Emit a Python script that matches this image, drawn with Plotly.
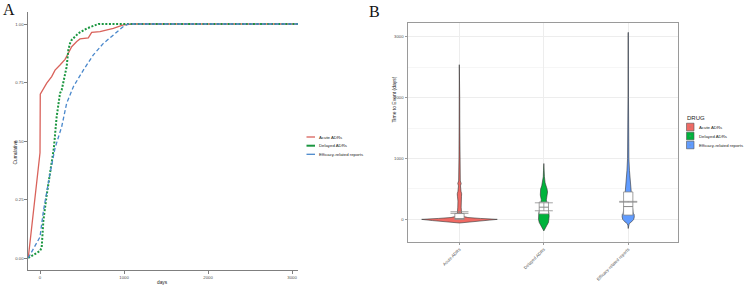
import plotly.graph_objects as go

W, H = 744, 288

# ---------------- Panel A data (cumulative curves) ----------------
acute_days = [-140, 0, 3, 40, 80, 139, 179, 238, 298, 337, 377, 437, 476, 575, 615, 714, 873, 992, 1100, 3071]
acute_cum = [0, 0.45, 0.70, 0.725, 0.747, 0.775, 0.803, 0.825, 0.849, 0.875, 0.903, 0.925, 0.936, 0.941, 0.964, 0.967, 0.981, 0.996, 1.0, 1.0]

delayed_days = [-140, 0, 20, 40, 80, 139, 165, 198, 238, 258, 298, 317, 337, 357, 377, 437, 456, 556, 694, 3071]
delayed_cum = [0, 0.03, 0.045, 0.16, 0.27, 0.40, 0.47, 0.604, 0.704, 0.718, 0.789, 0.817, 0.889, 0.917, 0.932, 0.953, 0.96, 0.981, 1.0, 1.0]

efficacy_days = [-140, 0, 40, 80, 119, 179, 258, 317, 397, 516, 635, 754, 873, 992, 1052, 3071]
efficacy_cum = [0, 0.09, 0.20, 0.29, 0.36, 0.47, 0.561, 0.661, 0.732, 0.803, 0.868, 0.917, 0.953, 0.989, 1.0, 1.0]

series_names = ["Acute ADRs", "Delayed ADRs", "Efficacy-related reports"]
a_ticks_y = [0, 0.25, 0.5, 0.75, 1.0]
a_ticklabels_y = ["0.00", "0.25", "0.50", "0.75", "1.00"]
a_ticks_x = [0, 1000, 2000, 3000]

# ---------------- Panel B data (violin profiles + box summaries) ----------------
acute_levels = [-60, -40, -20, 0, 15, 30, 50, 100, 200, 300, 380, 420, 460, 550, 590, 630, 800, 1000, 1500, 2000, 2540]
acute_halfw = [0.0, 0.15, 0.32, 0.448, 0.25, 0.1, 0.04, 0.025, 0.02, 0.018, 0.024, 0.026, 0.018, 0.012, 0.02, 0.01, 0.008, 0.006, 0.004, 0.003, 0.002]

delayed_levels = [-190, -150, -100, -50, 0, 50, 100, 150, 250, 320, 400, 450, 500, 550, 600, 700, 800, 900, 917]
delayed_halfw = [0.0, 0.012, 0.035, 0.055, 0.063, 0.063, 0.06, 0.05, 0.035, 0.03, 0.042, 0.044, 0.038, 0.025, 0.015, 0.007, 0.004, 0.002, 0.0]

efficacy_levels = [-150, -100, -70, -40, 0, 40, 80, 100, 200, 450, 600, 800, 1000, 1500, 2000, 3070]
efficacy_halfw = [0.0, 0.004, 0.012, 0.04, 0.065, 0.072, 0.07, 0.06, 0.05, 0.036, 0.025, 0.015, 0.008, 0.004, 0.003, 0.002]

box_q1 = [0, 90, 70]
box_median = [12, 200, 210]
box_q3 = [95, 285, 450]
err_low = [98, 141, 282]
err_high = [125, 272, 295]

b_ticks_y = [0, 1000, 2000, 3000]
b_minor_y = [500, 1500, 2500]

line_colors = ["#D9625B", "#1B9640", "#4A88CC"]
line_dashes = ["solid", "2px,1.6px", "4px,2.5px"]
line_widths = [1.3, 2.0, 1.3]
fill_colors = ["#F06A64", "#00B33C", "#619CFF"]

font_sans = "Liberation Sans, Arial, sans-serif"
serif = "Liberation Serif, Times New Roman, serif"

BOX_HALF = 0.055
fig = go.Figure()

# ---- Panel A curves ----
for name, xs, ys, c, d, w in zip(series_names,
                                  [acute_days, delayed_days, efficacy_days],
                                  [acute_cum, delayed_cum, efficacy_cum],
                                  line_colors, line_dashes, line_widths):
    fig.add_trace(go.Scatter(x=xs, y=ys, mode="lines", name=name,
                             line=dict(color=c, dash=d, width=w),
                             xaxis="x", yaxis="y", showlegend=False))

# ---- Panel B violins ----
for i, (name, lv, hw, fc) in enumerate(zip(series_names,
                                          [acute_levels, delayed_levels, efficacy_levels],
                                          [acute_halfw, delayed_halfw, efficacy_halfw],
                                          fill_colors)):
    c = i + 1
    xs = [c + h for h in hw] + [c - h for h in reversed(hw)]
    ys = list(lv) + list(reversed(lv))
    fig.add_trace(go.Scatter(x=xs, y=ys, mode="lines", fill="toself", name=name,
                             fillcolor=fc, line=dict(color="#333333", width=0.6),
                             xaxis="x2", yaxis="y2", showlegend=False, hoverinfo="skip"))

# ---- Panel B boxes (drawn after the violins so they sit on top) ----
for i in range(3):
    c = i + 1
    fig.add_trace(go.Scatter(
        x=[c - BOX_HALF, c + BOX_HALF, c + BOX_HALF, c - BOX_HALF, c - BOX_HALF],
        y=[box_q1[i], box_q1[i], box_q3[i], box_q3[i], box_q1[i]],
        mode="lines", fill="toself", fillcolor="white",
        line=dict(color="#8A8A8A", width=0.8),
        xaxis="x2", yaxis="y2", showlegend=False, hoverinfo="skip"))
    fig.add_trace(go.Scatter(
        x=[c - BOX_HALF, c + BOX_HALF], y=[box_median[i], box_median[i]],
        mode="lines", line=dict(color="#7A7A7A", width=0.9),
        xaxis="x2", yaxis="y2", showlegend=False, hoverinfo="skip"))

# ---- Panel B error bars ----
mids = [(lo + hi) / 2 for lo, hi in zip(err_low, err_high)]
fig.add_trace(go.Scatter(x=[1, 2, 3], y=mids, mode="markers",
                         marker=dict(size=0.1, color="rgba(0,0,0,0)"),
                         error_y=dict(type="data", symmetric=False,
                                      array=[h - m for h, m in zip(err_high, mids)],
                                      arrayminus=[m - l for l, m in zip(err_low, mids)],
                                      color="#8C8C8C", thickness=0.8, width=9),
                         showlegend=False, xaxis="x2", yaxis="y2", hoverinfo="skip"))

tickfont = dict(family=font_sans, size=4.3, color="#4D4D4D")

def px(x):
    return x / W

def py(y):
    return 1 - y / H

shapes = []
annotations = []

# ---- manual legend, panel A ----
leg_a_y = [137, 145.7, 154.3]
for name, c, d, w, yy in zip(series_names, line_colors, line_dashes, line_widths, leg_a_y):
    shapes.append(dict(type="line", xref="paper", yref="paper",
                       x0=px(306.5), x1=px(315), y0=py(yy), y1=py(yy),
                       line=dict(color=c, dash="solid", width=w)))
    annotations.append(dict(text=name, x=px(317), y=py(yy), xref="paper", yref="paper",
                            xanchor="left", yanchor="middle", showarrow=False,
                            font=dict(size=4.3, color="#222")))

# ---- manual legend, panel B ----
annotations.append(dict(text="DRUG", x=px(684.5), y=py(118), xref="paper", yref="paper",
                        xanchor="left", yanchor="middle", showarrow=False,
                        font=dict(size=6, color="#222")))
leg_b_y = [127, 136, 145]
for name, fc, yy in zip(series_names, fill_colors, leg_b_y):
    shapes.append(dict(type="rect", xref="paper", yref="paper",
                       x0=px(686.5), x1=px(694), y0=py(yy + 3.8), y1=py(yy - 3.8),
                       fillcolor=fc, line=dict(color="#555555", width=0.6)))
    shapes.append(dict(type="line", xref="paper", yref="paper",
                       x0=px(689.3), x1=px(691.2), y0=py(yy), y1=py(yy),
                       line=dict(color="#8A8A8A", width=0.6)))
    annotations.append(dict(text=name, x=px(696.5), y=py(yy), xref="paper", yref="paper",
                            xanchor="left", yanchor="middle", showarrow=False,
                            font=dict(size=4.3, color="#222")))

# ---- titles / panel labels ----
annotations += [
    dict(text="A", x=px(9), y=py(9.5), xref="paper", yref="paper",
         xanchor="center", yanchor="middle", showarrow=False,
         font=dict(family=serif, size=16, color="#111")),
    dict(text="B", x=px(374), y=py(12), xref="paper", yref="paper",
         xanchor="center", yanchor="middle", showarrow=False,
         font=dict(family=serif, size=16, color="#111")),
    dict(text="Time to Event (days)", x=px(393.5), y=py(100), xref="paper", yref="paper",
         xanchor="center", yanchor="middle", showarrow=False, textangle=-90,
         font=dict(size=5, color="#222")),
    dict(text="Cumulative", x=px(14.5), y=py(153), xref="paper", yref="paper",
         xanchor="center", yanchor="middle", showarrow=False, textangle=-90,
         font=dict(size=4.8, color="#222")),
    dict(text="days", x=px(162), y=py(282), xref="paper", yref="paper",
         xanchor="center", yanchor="middle", showarrow=False,
         font=dict(size=4.8, color="#222")),
]

fig.update_layout(
    width=W, height=H,
    margin=dict(l=0, r=0, t=0, b=0),
    paper_bgcolor="white", plot_bgcolor="white",
    showlegend=False,
    font=dict(family=font_sans, size=5, color="#222"),
    xaxis=dict(domain=[px(28), px(298)], range=[-143, 3071], automargin=False,
               tickvals=a_ticks_x, tickfont=tickfont,
               showline=True, linecolor="#7F7F7F", linewidth=1.2,
               ticks="outside", ticklen=2.5, tickcolor="#7F7F7F",
               showgrid=False, zeroline=False, anchor="y"),
    yaxis=dict(domain=[py(270), py(12)], range=[-0.0513, 1.0513], automargin=False,
               tickvals=a_ticks_y, ticktext=a_ticklabels_y, tickfont=tickfont,
               showline=True, linecolor="#7F7F7F", linewidth=1.2,
               ticks="outside", ticklen=2.5, tickcolor="#7F7F7F",
               showgrid=False, zeroline=False, anchor="x"),
    xaxis2=dict(domain=[px(408), px(678)], range=[0.39, 3.59], automargin=False,
                tickvals=[1, 2, 3], ticktext=series_names, tickangle=-45,
                tickfont=tickfont,
                showline=True, mirror=True, linecolor="#9A9A9A", linewidth=1,
                ticks="outside", ticklen=2.5, tickcolor="#9A9A9A",
                showgrid=True, gridcolor="#EDEDED", gridwidth=0.8, zeroline=False,
                anchor="y2"),
    yaxis2=dict(domain=[py(241.7), py(22.7)], range=[-367, 3230], automargin=False,
                tickvals=b_ticks_y, tickfont=tickfont,
                showline=True, mirror=True, linecolor="#9A9A9A", linewidth=1,
                ticks="outside", ticklen=2.5, tickcolor="#9A9A9A",
                showgrid=True, gridcolor="#EDEDED", gridwidth=0.8, zeroline=False,
                minor=dict(tickvals=b_minor_y, showgrid=True, gridcolor="#F6F6F6", gridwidth=0.5),
                anchor="x2"),
    shapes=shapes,
    annotations=annotations,
)

fig.write_html("out.html", config={"displayModeBar": False},
               post_script="document.body.style.margin='0';document.body.style.overflow='hidden';")
